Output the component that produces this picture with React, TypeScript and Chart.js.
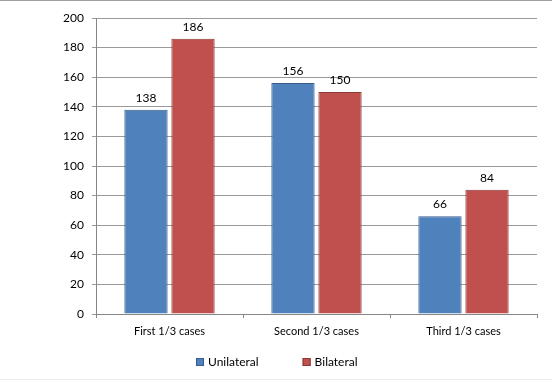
import React, { useEffect, useRef } from "react";
import { Chart, registerables } from "chart.js";

Chart.register(...registerables);

const categories = ["First 1/3 cases", "Second 1/3 cases", "Third 1/3 cases"];
const unilateral = [138, 156, 66];
const bilateral = [186, 150, 84];
const seriesNames = ["Unilateral", "Bilateral"];

const FONT = "Lato, 'Noto Sans', sans-serif";

const valueLabels = {
  id: "valueLabels",
  afterDatasetsDraw(chart: any) {
    const ctx = chart.ctx;
    ctx.save();
    ctx.font = `12px ${FONT}`;
    ctx.fillStyle = "#000";
    ctx.textAlign = "center";
    ctx.textBaseline = "alphabetic";
    chart.data.datasets.forEach((ds: any, di: number) => {
      const meta = chart.getDatasetMeta(di);
      meta.data.forEach((bar: any, i: number) => {
        ctx.fillText(String(ds.data[i]), bar.x, bar.y - 8);
      });
    });
    ctx.restore();
  },
};

const bottomLegend = {
  id: "bottomLegend",
  afterDraw(chart: any) {
    const ctx = chart.ctx;
    ctx.save();
    ctx.font = `12px ${FONT}`;
    ctx.textBaseline = "middle";
    ctx.textAlign = "left";
    const box = 8;
    const gapText = 4;
    const gapItem = 44;
    const items = chart.data.datasets.map((ds: any) => ({
      text: ds.label,
      fill: ds.backgroundColor,
      stroke: ds.borderColor,
      w: box + gapText + ctx.measureText(ds.label).width,
    }));
    const total = items.reduce((a: number, it: any) => a + it.w, 0) + gapItem * (items.length - 1);
    let x = Math.round((chart.width - total) / 2 + 1);
    const y = 361;
    items.forEach((it: any) => {
      ctx.fillStyle = it.fill;
      ctx.fillRect(x, y - box / 2, box, box);
      ctx.strokeStyle = it.stroke;
      ctx.lineWidth = 1;
      ctx.strokeRect(x + 0.5, y - box / 2 + 0.5, box - 1, box - 1);
      ctx.fillStyle = "#000";
      ctx.fillText(it.text, x + box + gapText, y);
      x += it.w + gapItem;
    });
    ctx.restore();
  },
};

export default function App() {
  const ref = useRef<HTMLCanvasElement>(null);
  useEffect(() => {
    document.body.style.margin = "0";
    const chart = new Chart(ref.current!, {
      type: "bar",
      data: {
        labels: categories,
        datasets: [
          {
            label: seriesNames[0],
            data: unilateral,
            backgroundColor: "#4F81BD",
            borderColor: "#385D8A",
            borderWidth: 1,
            categoryPercentage: 0.64,
            barPercentage: 0.92,
          },
          {
            label: seriesNames[1],
            data: bilateral,
            backgroundColor: "#C0504D",
            borderColor: "#8C3836",
            borderWidth: 1,
            categoryPercentage: 0.64,
            barPercentage: 0.92,
          },
        ],
      },
      options: {
        animation: false,
        responsive: false,
        maintainAspectRatio: false,
        layout: { padding: { top: 17, right: 15, bottom: 0, left: 0 } },
        plugins: {
          legend: { display: false },
          tooltip: { enabled: false },
        },
        scales: {
          x: {
            grid: {
              offset: true,
              drawOnChartArea: false,
              drawTicks: true,
              tickLength: 4,
              color: "#868686",
            },
            border: { color: "#868686" },
            ticks: {
              color: "#000",
              font: { family: FONT, size: 11 },
              padding: 7,
            },
            afterFit(s: any) {
              s.height = 65;
            },
          },
          y: {
            min: 0,
            max: 200,
            ticks: {
              stepSize: 20,
              color: "#000",
              font: { family: FONT, size: 12 },
              padding: 8,
            },
            grid: {
              color: "#9A9A9A",
              tickLength: 4,
            },
            border: { color: "#868686" },
            afterFit(s: any) {
              s.width = 96;
            },
          },
        },
      },
      plugins: [valueLabels, bottomLegend],
    });
    return () => chart.destroy();
  }, []);
  return (
    <div
      style={{
        position: "absolute",
        left: 0,
        top: 0,
        width: 552,
        height: 380,
        boxSizing: "border-box",
        borderTop: "1px solid #A0A0A0",
        borderBottom: "1px solid #EBEBEB",
        background: "#fff",
      }}
    >
      <canvas ref={ref} width={552} height={378} style={{ display: "block" }} />
    </div>
  );
}
